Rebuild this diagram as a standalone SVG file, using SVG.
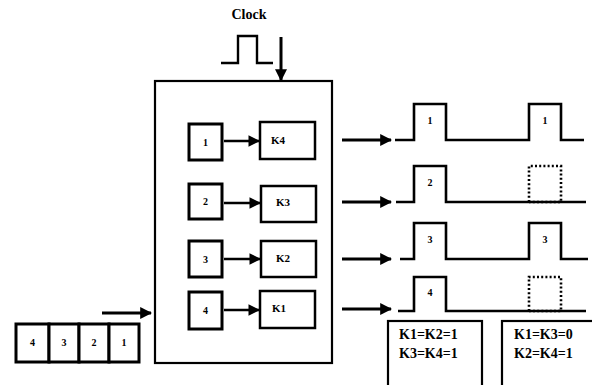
<svg xmlns="http://www.w3.org/2000/svg" width="592" height="385" viewBox="0 0 592 385">
  <defs>
    <marker id="ah" viewBox="0 0 10 10" refX="9" refY="5" markerWidth="4" markerHeight="4" markerUnits="strokeWidth" orient="auto">
      <path d="M0,0 L10,5 L0,10 z" fill="#000"/>
    </marker>
    <marker id="ahs" viewBox="0 0 10 10" refX="9" refY="5" markerWidth="4.5" markerHeight="4.5" markerUnits="strokeWidth" orient="auto">
      <path d="M0,0 L10,5 L0,10 z" fill="#000"/>
    </marker>
  </defs>
  <style>
    .box { fill: #fff; stroke: #000; stroke-width: 2.2; }
    .sb { fill: #fff; stroke: #000; stroke-width: 3; }
    .kb { fill: #fff; stroke: #000; stroke-width: 2.5; }
    .ln { fill: none; stroke: #000; stroke-width: 2.4; stroke-linejoin: miter; }
    .pl { fill: none; stroke: #000; stroke-width: 2.6; stroke-linejoin: miter; }
    .dot { fill: none; stroke: #000; stroke-width: 2.6; stroke-dasharray: 2 2.2; }
    .arr { fill: none; stroke: #000; stroke-width: 2.6; marker-end: url(#ahs); }
    .arr2 { fill: none; stroke: #000; stroke-width: 3; marker-end: url(#ah); }
    .t { font-family: "Liberation Serif", "Times New Roman", serif; font-weight: bold; font-size: 10px; text-anchor: middle; }
    .k { font-family: "Liberation Serif", "Times New Roman", serif; font-weight: bold; font-size: 11px; }
    .eq { font-family: "Liberation Serif", "Times New Roman", serif; font-weight: bold; font-size: 14px; }
  </style>

  <!-- clock input -->
  <g id="clock">
    <text x="249" y="19" class="eq" font-size="13" text-anchor="middle">Clock</text>
    <polyline class="ln" points="221,63 238,63 238,36 257,36 257,63 273,63"/>
  </g>

  <!-- switching unit -->
  <g id="unit">
    <rect class="box" x="155" y="81" width="177" height="282"/>
  </g>

  <g id="in1"><rect class="sb" x="189" y="124" width="33" height="36"/><text class="t" x="205.5" y="145.5">1</text></g>
  <g id="in2"><rect class="sb" x="189" y="184" width="33" height="35"/><text class="t" x="205.5" y="205">2</text></g>
  <g id="in3"><rect class="sb" x="189" y="241" width="33" height="36"/><text class="t" x="205.5" y="262.5">3</text></g>
  <g id="in4"><rect class="sb" x="189" y="292" width="33" height="37"/><text class="t" x="205.5" y="314">4</text></g>

  <g id="k4"><rect class="kb" x="260" y="122" width="55" height="37"/><text class="k" x="271" y="144">K4</text></g>
  <g id="k3"><rect class="kb" x="261" y="186" width="55" height="36"/><text class="k" x="276" y="206">K3</text></g>
  <g id="k2"><rect class="kb" x="261" y="241" width="55" height="36"/><text class="k" x="276" y="262">K2</text></g>
  <g id="k1"><rect class="kb" x="260" y="291" width="55" height="37"/><text class="k" x="272" y="312">K1</text></g>

  <!-- input queue -->
  <g id="queue">
    <rect class="sb" x="16" y="324" width="33" height="38"/>
    <rect class="sb" x="49" y="324" width="30" height="38"/>
    <rect class="sb" x="79" y="324" width="30" height="38"/>
    <rect class="sb" x="109" y="324" width="30" height="38"/>
    <text class="t" x="32.5" y="345.5">4</text>
    <text class="t" x="64" y="345.5">3</text>
    <text class="t" x="94" y="345.5">2</text>
    <text class="t" x="124" y="345.5">1</text>
  </g>

  <!-- output pulse trains -->
  <g id="out1">
    <path class="pl" d="M395,140 H414 V104 H446 V140 H529 V104 H561 V140 H584"/>
    <text class="t" x="430" y="124">1</text>
    <text class="t" x="545" y="124">1</text>
  </g>
  <g id="out2">
    <path class="pl" d="M396,202 H414 V166 H446 V202 H586"/>
    <path class="dot" d="M529,202 V166 H561 V202 H529"/>
    <text class="t" x="430" y="186">2</text>
  </g>
  <g id="out3">
    <path class="pl" d="M400,259 H414 V223 H446 V259 H529 V223 H561 V259 H588"/>
    <text class="t" x="430" y="243">3</text>
    <text class="t" x="545" y="243">3</text>
  </g>
  <g id="out4">
    <path class="pl" d="M398,311 H414 V277 H446 V311 H586"/>
    <path class="dot" d="M529,311 V277 H561 V311 H529"/>
    <text class="t" x="430" y="296">4</text>
  </g>

  <!-- switch settings -->
  <g id="set1">
    <rect class="box" x="388" y="321" width="94" height="70" stroke-width="1.6"/>
    <text class="eq" x="399" y="339">K1=K2=1</text>
    <text class="eq" x="399" y="358">K3=K4=1</text>
  </g>
  <g id="set2">
    <rect class="box" x="502" y="321" width="95" height="70" stroke-width="1.6"/>
    <text class="eq" x="514" y="339">K1=K3=0</text>
    <text class="eq" x="514" y="358">K2=K4=1</text>
  </g>

  <!-- connectors -->
  <g id="connectors">
    <line class="arr2" x1="281" y1="37" x2="281" y2="80"/>
    <line class="arr2" x1="102" y1="313" x2="151" y2="313"/>
    <line class="arr" x1="224" y1="141" x2="259" y2="141"/>
    <line class="arr" x1="224" y1="203" x2="260" y2="203"/>
    <line class="arr" x1="224" y1="259" x2="260" y2="259"/>
    <line class="arr" x1="224" y1="310" x2="259" y2="310"/>
    <line class="arr2" x1="342" y1="140" x2="391" y2="140"/>
    <line class="arr2" x1="342" y1="202" x2="391" y2="202"/>
    <line class="arr2" x1="342" y1="259" x2="391" y2="259"/>
    <line class="arr2" x1="342" y1="309" x2="391" y2="309"/>
  </g>
</svg>
